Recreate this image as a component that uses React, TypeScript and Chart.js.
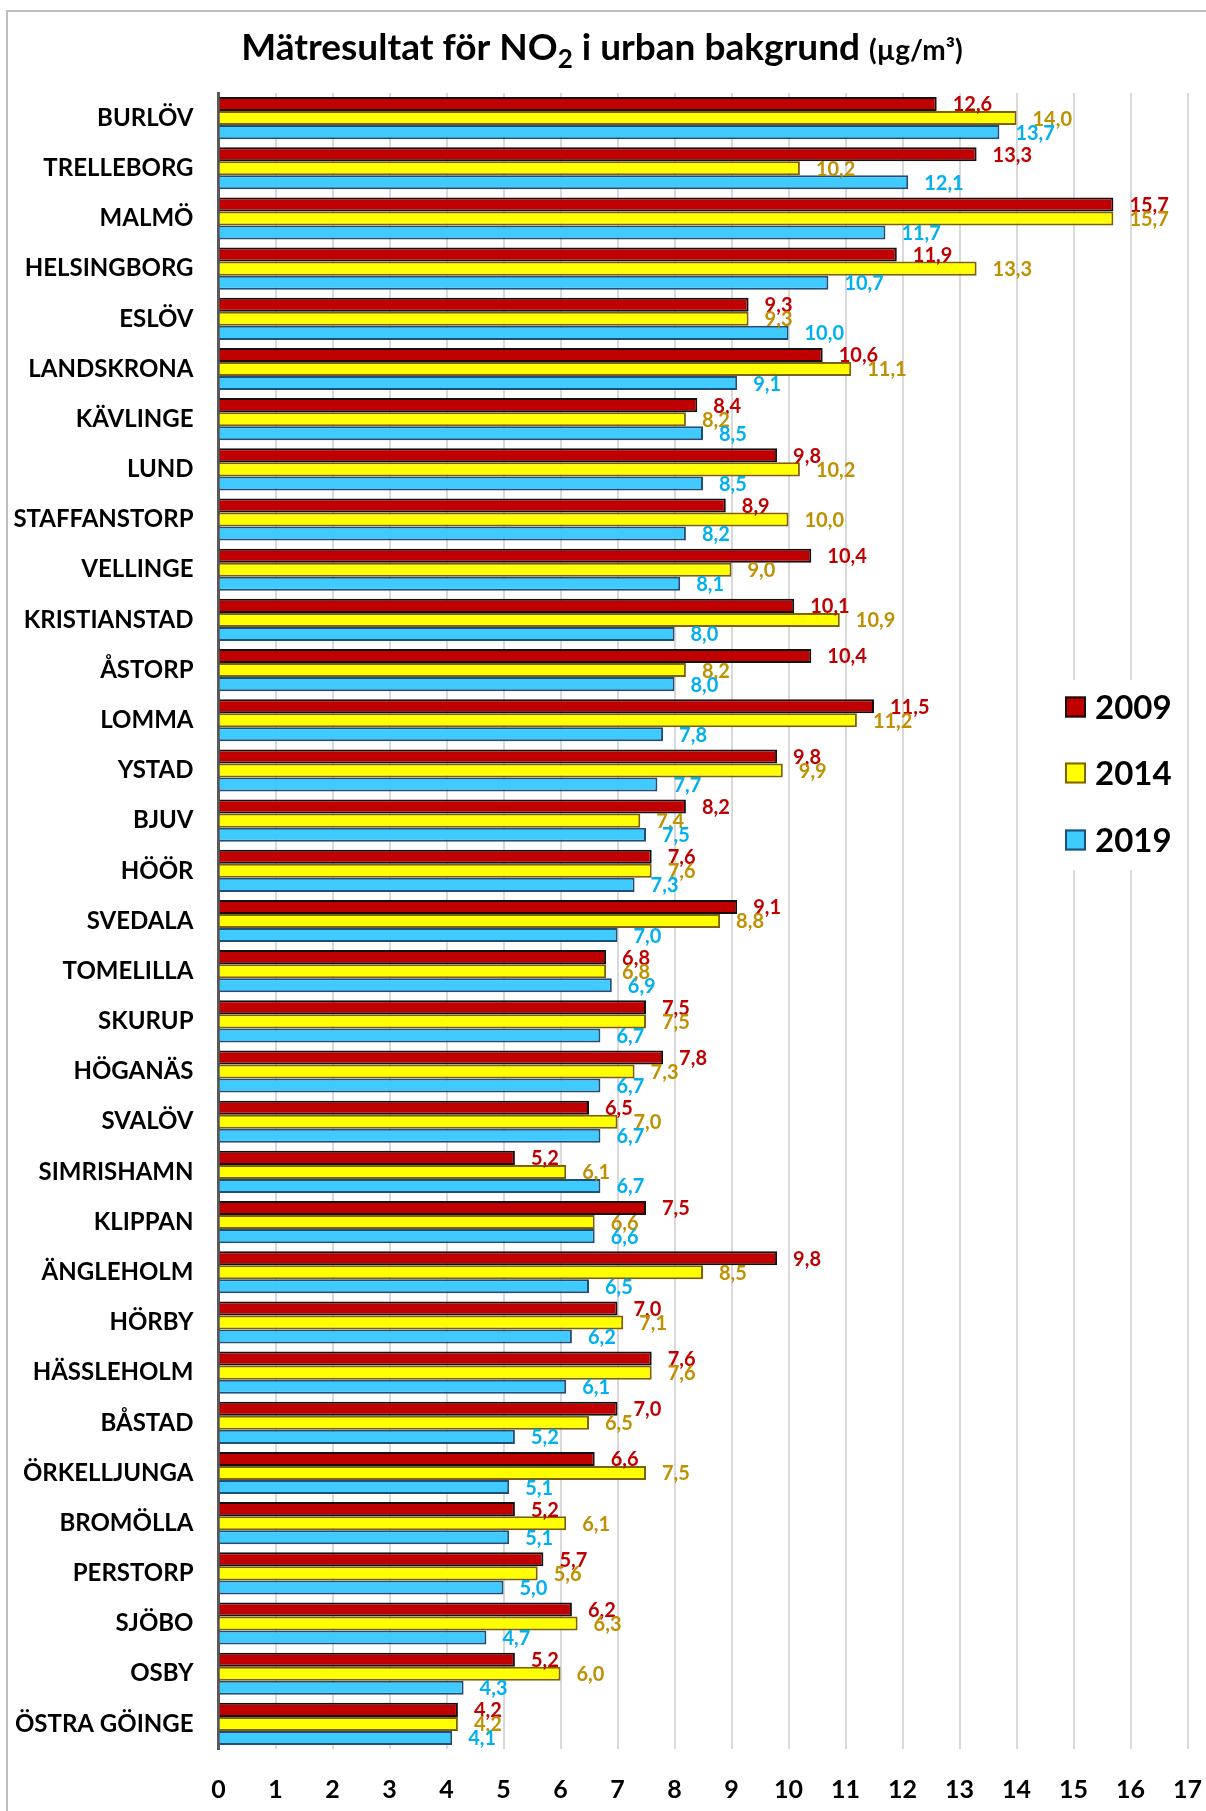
import React, { useEffect, useRef } from 'react';
import { Chart, registerables } from 'chart.js';

Chart.register(...registerables);

const categories = [
  'BURLÖV', 'TRELLEBORG', 'MALMÖ', 'HELSINGBORG', 'ESLÖV', 'LANDSKRONA', 'KÄVLINGE', 'LUND',
  'STAFFANSTORP', 'VELLINGE', 'KRISTIANSTAD', 'ÅSTORP', 'LOMMA', 'YSTAD', 'BJUV', 'HÖÖR',
  'SVEDALA', 'TOMELILLA', 'SKURUP', 'HÖGANÄS', 'SVALÖV', 'SIMRISHAMN', 'KLIPPAN', 'ÄNGLEHOLM',
  'HÖRBY', 'HÄSSLEHOLM', 'BÅSTAD', 'ÖRKELLJUNGA', 'BROMÖLLA', 'PERSTORP', 'SJÖBO', 'OSBY', 'ÖSTRA GÖINGE',
];

const values2009 = [
  12.6, 13.3, 15.7, 11.9, 9.3, 10.6, 8.4, 9.8, 8.9, 10.4, 10.1, 10.4, 11.5, 9.8, 8.2, 7.6,
  9.1, 6.8, 7.5, 7.8, 6.5, 5.2, 7.5, 9.8, 7.0, 7.6, 7.0, 6.6, 5.2, 5.7, 6.2, 5.2, 4.2,
];
const values2014 = [
  14.0, 10.2, 15.7, 13.3, 9.3, 11.1, 8.2, 10.2, 10.0, 9.0, 10.9, 8.2, 11.2, 9.9, 7.4, 7.6,
  8.8, 6.8, 7.5, 7.3, 7.0, 6.1, 6.6, 8.5, 7.1, 7.6, 6.5, 7.5, 6.1, 5.6, 6.3, 6.0, 4.2,
];
const values2019 = [
  13.7, 12.1, 11.7, 10.7, 10.0, 9.1, 8.5, 8.5, 8.2, 8.1, 8.0, 8.0, 7.8, 7.7, 7.5, 7.3,
  7.0, 6.9, 6.7, 6.7, 6.7, 6.7, 6.6, 6.5, 6.2, 6.1, 5.2, 5.1, 5.1, 5.0, 4.7, 4.3, 4.1,
];

const seriesNames = ['2009', '2014', '2019'];
const xMin = 0;
const xMax = 17;

const FILL = ['#C00000', '#FFFF00', '#3FCBFF'];
const EDGE = ['#111111', '#806000', '#1F4E79'];
const LABEL_COLORS = ['#C00000', '#BF9000', '#00B0F0'];
const FONT = 'Lato, "Open Sans", "DejaVu Sans", sans-serif';

const fmt = (v: number) => v.toFixed(1).replace('.', ',');

export default function App() {
  const ref = useRef<HTMLCanvasElement>(null);

  useEffect(() => {
    const canvas = ref.current;
    if (!canvas) return;

    const framePlugin = {
      id: 'frame',
      beforeDraw(chart: any) {
        const ctx = chart.ctx;
        ctx.save();
        ctx.fillStyle = '#ffffff';
        ctx.fillRect(0, 0, chart.width, chart.height);
        ctx.strokeStyle = '#BFBFBF';
        ctx.lineWidth = 2;
        ctx.strokeRect(7, 11, chart.width + 20, chart.height + 20);
        ctx.restore();
      },
      afterDraw(chart: any) {
        const ctx = chart.ctx;
        ctx.save();
        // title with subscript and small unit
        const partA = 'Mätresultat för NO';
        const sub = '2';
        const partB = ' i urban bakgrund ';
        const unit = '(µg/m³)';
        const big = `bold 37px ${FONT}`;
        const small = `bold 26px ${FONT}`;
        const unitFont = `bold 28px ${FONT}`;
        ctx.font = big;
        const wA = ctx.measureText(partA).width;
        const wB = ctx.measureText(partB).width;
        ctx.font = small;
        const wS = ctx.measureText(sub).width;
        ctx.font = unitFont;
        const wU = ctx.measureText(unit).width;
        const total = wA + wS + wB + wU;
        let x = 602 - total / 2;
        const base = 60;
        ctx.fillStyle = '#000';
        ctx.textBaseline = 'alphabetic';
        ctx.textAlign = 'left';
        ctx.font = big;
        ctx.fillText(partA, x, base);
        x += wA;
        ctx.font = small;
        ctx.fillText(sub, x, base + 8);
        x += wS;
        ctx.font = big;
        ctx.fillText(partB, x, base);
        x += wB;
        ctx.font = unitFont;
        ctx.fillText(unit, x, base);

        // legend
        ctx.fillStyle = '#ffffff';
        ctx.fillRect(1050, 680, 128, 190);
        const ys = [707, 773, 840];
        seriesNames.forEach((name, i) => {
          ctx.fillStyle = FILL[i];
          ctx.fillRect(1065, ys[i] - 10.5, 21, 21);
          ctx.strokeStyle = EDGE[i];
          ctx.lineWidth = 2;
          ctx.strokeRect(1066, ys[i] - 9.5, 19, 19);
          ctx.fillStyle = '#000';
          ctx.font = `bold 33px ${FONT}`;
          ctx.textBaseline = 'middle';
          ctx.fillText(name, 1095, ys[i] + 1);
        });
        ctx.restore();
      },
      afterDatasetsDraw(chart: any) {
        const ctx = chart.ctx;
        ctx.save();
        ctx.font = `bold 20px ${FONT}`;
        ctx.textBaseline = 'middle';
        ctx.textAlign = 'left';
        chart.data.datasets.forEach((ds: any, i: number) => {
          const meta = chart.getDatasetMeta(i);
          ctx.fillStyle = LABEL_COLORS[i];
          meta.data.forEach((bar: any, j: number) => {
            ctx.fillText(fmt(ds.data[j]), bar.x + 16, bar.y + 1);
          });
        });
        ctx.restore();
      },
    };

    const chart = new Chart(canvas, {
      type: 'bar',
      data: {
        labels: categories,
        datasets: [values2009, values2014, values2019].map((vals, i) => ({
          label: seriesNames[i],
          data: vals,
          backgroundColor: FILL[i],
          borderColor: EDGE[i],
          borderWidth: 2,
          categoryPercentage: 0.84,
          barPercentage: 1,
        })),
      },
      options: {
        indexAxis: 'y',
        responsive: false,
        animation: false,
        devicePixelRatio: 1,
        layout: { padding: { top: 93, right: 18.5, left: 0, bottom: 0 } },
        plugins: {
          legend: { display: false },
          title: { display: false },
          tooltip: { enabled: false },
        },
        scales: {
          x: {
            type: 'linear',
            min: xMin,
            max: xMax,
            ticks: {
              stepSize: 1,
              padding: 26,
              color: '#000',
              font: { family: FONT, size: 25, weight: 'bold' },
            },
            grid: {
              drawTicks: false,
              lineWidth: 2,
              color: (c: any) => (c.index === 0 ? 'rgba(0,0,0,0)' : '#D9D9D9'),
            },
            border: { display: false },
            afterFit: (s: any) => {
              s.height = 62;
              s.paddingLeft = 0;
              s.paddingRight = 0;
            },
          },
          y: {
            type: 'category',
            z: 1,
            ticks: {
              padding: 25,
              color: '#000',
              font: { family: FONT, size: 24, weight: 'bold' },
            },
            grid: { display: false, drawTicks: false },
            border: { display: true, color: '#595959', width: 3 },
            afterFit: (s: any) => {
              s.width = 218.5;
              s.paddingTop = 0;
              s.paddingBottom = 0;
            },
          },
        },
      },
      plugins: [framePlugin],
    });

    return () => chart.destroy();
  }, []);

  return (
    <div style={{ position: 'absolute', left: 0, top: 0, width: 1206, height: 1811, background: '#fff' }}>
      <canvas ref={ref} width={1206} height={1811} style={{ display: 'block', width: 1206, height: 1811 }} />
    </div>
  );
}
